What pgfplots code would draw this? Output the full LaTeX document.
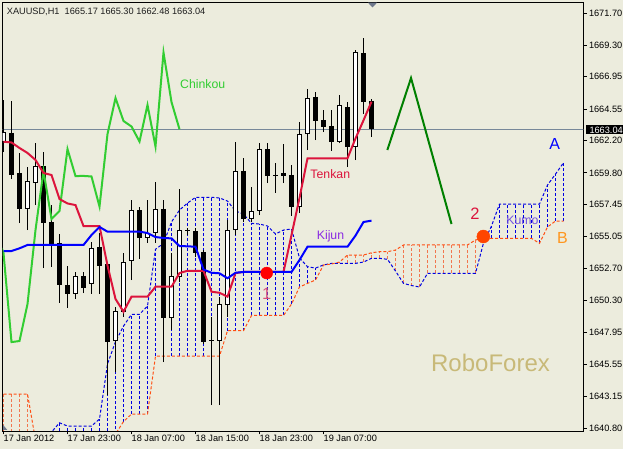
\documentclass[border=0pt]{standalone}
\usepackage{pgfplots}
\pgfplotsset{compat=1.18}
\usepackage{pgfplotstable}
\usepackage{fontspec}
\setmainfont{Liberation Sans}

\definecolor{bg}{RGB}{236,236,221}
\definecolor{tenkan}{RGB}{220,20,60}
\definecolor{kijun}{RGB}{0,0,255}
\definecolor{chinkou}{RGB}{50,205,50}
\definecolor{spanA}{RGB}{0,0,225}
\definecolor{spanB}{RGB}{255,80,20}
\definecolor{hatchB}{RGB}{242,118,78}
\definecolor{zig}{RGB}{0,128,0}
\definecolor{pline}{RGB}{119,136,153}
\definecolor{kijunlbl}{RGB}{138,43,226}
\definecolor{kumolbl}{RGB}{112,80,224}
\definecolor{labelB}{RGB}{255,150,30}
\definecolor{robo}{RGB}{200,185,120}
\definecolor{one}{RGB}{217,82,122}
\definecolor{dot2}{RGB}{255,69,0}
\definecolor{marker}{RGB}{110,120,140}

\pgfplotstableread{
i o h l c
0 1662.10 1665.22 1661.35 1662.84
1 1662.77 1665.15 1659.34 1659.64
2 1659.79 1661.28 1656.06 1657.11
3 1657.11 1660.23 1655.54 1659.19
4 1659.07 1662.02 1657.40 1660.31
5 1660.31 1661.35 1652.71 1656.09
6 1656.14 1657.40 1652.79 1654.50
7 1654.58 1655.25 1650.11 1651.45
8 1651.45 1652.86 1649.74 1650.78
9 1650.78 1652.42 1650.41 1652.12
10 1652.12 1652.42 1650.85 1651.22
11 1651.52 1654.65 1650.78 1654.20
12 1654.28 1655.32 1650.78 1652.86
13 1653.01 1653.16 1643.26 1647.20
14 1647.28 1649.81 1644.97 1649.51
15 1649.44 1653.83 1649.07 1653.16
16 1653.23 1657.78 1651.82 1657.03
17 1657.03 1657.26 1653.38 1654.95
18 1654.95 1657.78 1654.58 1655.32
19 1655.32 1659.12 1654.58 1657.11
20 1657.11 1657.78 1645.71 1648.99
21 1648.99 1653.83 1648.10 1652.12
22 1652.04 1658.60 1651.67 1655.54
23 1655.54 1655.69 1655.17 1655.47
24 1655.47 1655.69 1653.53 1653.83
25 1653.90 1654.05 1647.05 1647.20
26 1647.35 1649.07 1642.51 1647.28
27 1647.28 1650.55 1642.51 1650.03
28 1649.96 1656.29 1649.07 1655.54
29 1655.54 1662.10 1655.17 1659.94
30 1659.94 1660.90 1656.14 1656.36
31 1656.36 1658.74 1656.14 1656.96
32 1656.96 1662.02 1656.66 1661.57
33 1661.57 1662.02 1659.04 1659.56
34 1659.64 1660.53 1658.30 1659.57
35 1659.79 1661.95 1659.04 1659.53
36 1659.64 1660.38 1656.59 1657.29
37 1657.29 1663.59 1656.81 1662.69
38 1662.69 1666.04 1661.50 1665.37
39 1665.45 1665.82 1662.24 1663.66
40 1663.73 1664.48 1662.84 1663.25
41 1663.29 1664.48 1661.43 1662.13
42 1662.13 1665.60 1662.02 1664.85
43 1664.70 1665.07 1660.23 1661.76
44 1661.76 1668.95 1660.75 1668.76
45 1668.72 1669.84 1664.18 1665.07
46 1665.17 1665.30 1662.48 1663.04
}\candles

\pgfplotstableread{
i t k
0 1662.12 1653.98
1 1662.06 1653.98
2 1661.65 1654.18
3 1661.28 1654.43
4 1660.76 1654.43
5 1659.79 1654.43
6 1659.64 1654.43
7 1657.85 1654.43
8 1657.52 1654.43
9 1657.40 1654.43
10 1655.84 1654.43
11 1655.84 1655.17
12 1655.84 1655.77
13 1652.90 1655.42
14 1650.41 1655.42
15 1649.46 1655.42
16 1650.58 1655.42
17 1650.58 1655.42
18 1650.58 1655.32
19 1651.32 1655.02
20 1651.32 1654.95
21 1651.32 1654.92
22 1652.34 1654.35
23 1652.51 1654.33
24 1652.51 1654.30
25 1652.51 1652.60
26 1650.95 1652.36
27 1650.87 1652.32
28 1650.58 1651.95
29 1652.34 1652.36
30 1652.42 1652.42
31 1652.42 1652.42
32 1652.42 1652.42
33 1652.42 1652.42
34 1652.42 1652.42
35 1652.42 1652.42
36 1655.17 1652.42
37 1657.93 1653.31
38 1660.88 1654.30
39 1660.88 1654.30
40 1660.88 1654.30
41 1660.88 1654.30
42 1660.88 1654.30
43 1660.88 1654.30
44 1662.36 1655.13
45 1663.71 1656.14
46 1665.10 1656.24
}\tk

\pgfplotstableread{
i a b
0 1639.00 1643.33
1 1639.00 1643.33
2 1639.00 1643.33
3 1639.00 1643.33
4 1639.00 1639.91
5 1639.50 1639.50
6 1640.50 1639.50
7 1641.19 1639.50
8 1640.95 1639.50
9 1640.95 1639.50
10 1640.95 1639.50
11 1640.95 1639.50
12 1641.47 1639.50
13 1645.57 1639.50
14 1647.23 1640.35
15 1648.39 1641.28
16 1649.27 1641.84
17 1649.27 1641.84
18 1649.88 1641.84
19 1654.11 1646.16
20 1654.55 1646.16
21 1656.14 1646.16
22 1657.03 1646.16
23 1657.55 1646.16
24 1657.98 1646.16
25 1657.98 1646.16
26 1657.98 1646.16
27 1657.93 1646.16
28 1657.70 1648.05
29 1656.96 1648.05
30 1656.73 1648.05
31 1656.04 1649.18
32 1655.99 1649.18
33 1655.84 1649.18
34 1655.25 1649.18
35 1655.54 1649.18
36 1655.62 1650.03
37 1653.46 1651.30
38 1652.81 1651.57
39 1652.71 1651.82
40 1652.94 1652.94
41 1653.06 1653.01
42 1653.06 1653.16
43 1653.06 1653.68
44 1653.06 1653.68
45 1653.16 1653.68
46 1653.44 1653.85
47 1653.44 1653.93
48 1653.36 1653.93
49 1652.49 1654.05
50 1651.57 1654.43
51 1651.41 1654.43
52 1651.30 1654.43
53 1652.32 1654.43
54 1652.32 1654.43
55 1652.32 1654.43
56 1652.32 1654.43
57 1652.32 1654.43
58 1652.32 1654.43
59 1652.32 1654.80
60 1654.58 1654.92
61 1655.84 1654.92
62 1657.48 1654.92
63 1657.48 1654.92
64 1657.48 1654.92
65 1657.48 1654.92
66 1657.48 1654.92
67 1657.48 1654.55
68 1658.89 1655.77
69 1659.71 1656.21
70 1660.55 1656.21
}\kumo

\pgfplotsset{
  errb/.style={draw=none, mark=none, forget plot,
    error bars/y dir=plus, error bars/y explicit, error bars/error mark=none},
  hatchA/.style={forget plot, color=spanA, line width=1pt, dash pattern=on 3pt off 2pt,
    quiver={u value=0, v=\thisrow{a}-\thisrow{b}}},
  hatchBB/.style={forget plot, color=hatchB, line width=1pt, dash pattern=on 3pt off 2pt,
    quiver={u value=0, v=\thisrow{b}-\thisrow{a}}},
}

\begin{document}
\begin{tikzpicture}
\useasboundingbox (0pt,0pt) rectangle (623pt,449pt);
\fill[bg] (0pt,0pt) rectangle (623pt,449pt);
\begin{axis}[
  at={(2.7pt,18pt)}, anchor=south west,
  scale only axis, width=580.6pt, height=428.3pt,
  xmin=-0.1, xmax=72.475, ymin=1640.58, ymax=1672.468,
  axis background/.style={fill=bg},
  axis line style={black, line width=0.9pt},
  xtick={0,8,16,24,32,40},
  xticklabels={17 Jan 2012,17 Jan 23:00,18 Jan 07:00,18 Jan 15:00,18 Jan 23:00,19 Jan 07:00},
  ytick={1640.80,1643.15,1645.55,1647.95,1650.30,1652.70,1655.05,1657.45,1659.80,1662.20,1664.55,1666.95,1669.30,1671.70},
  yticklabels={1640.80,1643.15,1645.55,1647.95,1650.30,1652.70,1655.05,1657.45,1659.80,1662.20,1664.55,1666.95,1669.30,1671.70},
  xtick pos=left, ytick pos=right, yticklabel pos=right,
  tick align=outside, major tick length=3.5pt,
  tick style={black, line width=0.9pt},
  ticklabel style={font=\fontsize{9.2}{10}\selectfont, text=black},
  xticklabel style={anchor=north west, inner sep=0pt, yshift=-0.5pt},
  yticklabel style={anchor=west, inner sep=0pt, xshift=2pt},
  /pgf/number format/assume math mode=true,
]
% kumo hatch (vertical segments between Senkou A and Senkou B)
\addplot[hatchA, restrict x to domain=6:40] table[x=i, y=b] {\kumo};
\addplot[hatchA, restrict x to domain=61:70] table[x=i, y=b] {\kumo};
\addplot[hatchBB, restrict x to domain=0:3] table[x=i, y=a] {\kumo};
\addplot[hatchBB, restrict x to domain=41:60] table[x=i, y=a] {\kumo};
% senkou spans
\addplot[spanA, line width=1pt, dash pattern=on 3pt off 2pt, forget plot] table[x=i, y=a] {\kumo};
\addplot[spanB, line width=1pt, dash pattern=on 3pt off 2pt, forget plot] table[x=i, y=b] {\kumo};
% price line
\addplot[pline, line width=1pt, forget plot] coordinates {(-1,1663.04) (80,1663.04)};
% candles: wicks, bodies, white inner
\addplot[errb, color=black, error bars/error bar style={draw=black, color=black, line width=1pt}]
  table[x=i, y=l, y error plus expr=\thisrow{h}-\thisrow{l}] {\candles};
\addplot[errb, color=black, error bars/error bar style={draw=black, color=black, line width=5pt}]
  table[x=i, y=o, y error plus expr=\thisrow{c}-\thisrow{o}] {\candles};
\addplot[errb, color=white, restrict expr to domain={\thisrow{c}-\thisrow{o}}{0.1:100}, error bars/error bar style={draw=white, color=white, line width=3pt}]
  table[x=i, y expr=\thisrow{o}+0.0745, y error plus expr=\thisrow{c}-\thisrow{o}-0.149] {\candles};
% ichimoku lines
\addplot[chinkou, line width=2pt, forget plot] table[x expr=\thisrow{i}-24, y=c] {\candles};
\addplot[tenkan, line width=2pt, forget plot] table[x=i, y=t] {\tk};
\addplot[kijun, line width=2pt, forget plot] table[x=i, y=k] {\tk};
% annotations
\addplot[zig, line width=2pt, forget plot] coordinates {(47.98,1661.50) (50.94,1666.86) (56.0,1655.99)};
\addplot[only marks, mark=*, mark size=6pt, red, forget plot] coordinates {(32.9,1652.34)};
\addplot[only marks, mark=*, mark size=6.5pt, dot2, forget plot] coordinates {(59.98,1655.06)};
\end{axis}
% chart chrome and labels (picture units: 1pt = 1px)
\fill[marker] (368pt,446.3pt) -- (377pt,446.3pt) -- (372.5pt,441.5pt) -- cycle;
\fill[marker] (3.2pt,19pt) -- (3.2pt,24pt) -- (7.3pt,19pt) -- cycle;
\fill[black] (586pt,314.7pt) rectangle (623pt,324pt);
\node[anchor=base west, inner sep=0pt, text=white, font=\fontsize{9.2}{10}\selectfont] at (589.3pt,315.9pt) {1663.04};
\node[anchor=base west, inner sep=0pt, font=\fontsize{9.2}{10}\selectfont, text={rgb,255:red,30;green,30;blue,30}] at (6.7pt,434pt) {XAUUSD,H1\ \ 1665.17 1665.30 1662.48 1663.04};
\node[anchor=base, inner sep=0pt, text=chinkou, font=\fontsize{12.3}{14}\selectfont] at (202.7pt,360.7pt) {Chinkou};
\node[anchor=base, inner sep=0pt, text=tenkan, font=\fontsize{12.3}{14}\selectfont] at (330.3pt,270.7pt) {Tenkan};
\node[anchor=base, inner sep=0pt, text=kijunlbl, font=\fontsize{12.3}{14}\selectfont] at (330.5pt,209pt) {Kijun};
\node[anchor=base, inner sep=0pt, text=kumolbl, font=\fontsize{12.3}{14}\selectfont] at (522.5pt,224pt) {Kumo};
\node[anchor=base, inner sep=0pt, text=blue, font=\fontsize{16}{18}\selectfont] at (554.7pt,299pt) {A};
\node[anchor=base, inner sep=0pt, text=labelB, font=\fontsize{16}{18}\selectfont] at (562.5pt,205.7pt) {B};
\node[anchor=base, inner sep=0pt, text=tenkan, font=\fontsize{16.5}{18}\selectfont] at (475pt,229pt) {2};
\node[anchor=base, inner sep=0pt, text=one, font=\fontsize{16.5}{18}\selectfont] at (266.7pt,149pt) {1};
\node[anchor=base, inner sep=0pt, text=robo, font=\fontsize{24}{28}\selectfont] at (490.5pt,77.3pt) {RoboForex};
\end{tikzpicture}
\end{document}
